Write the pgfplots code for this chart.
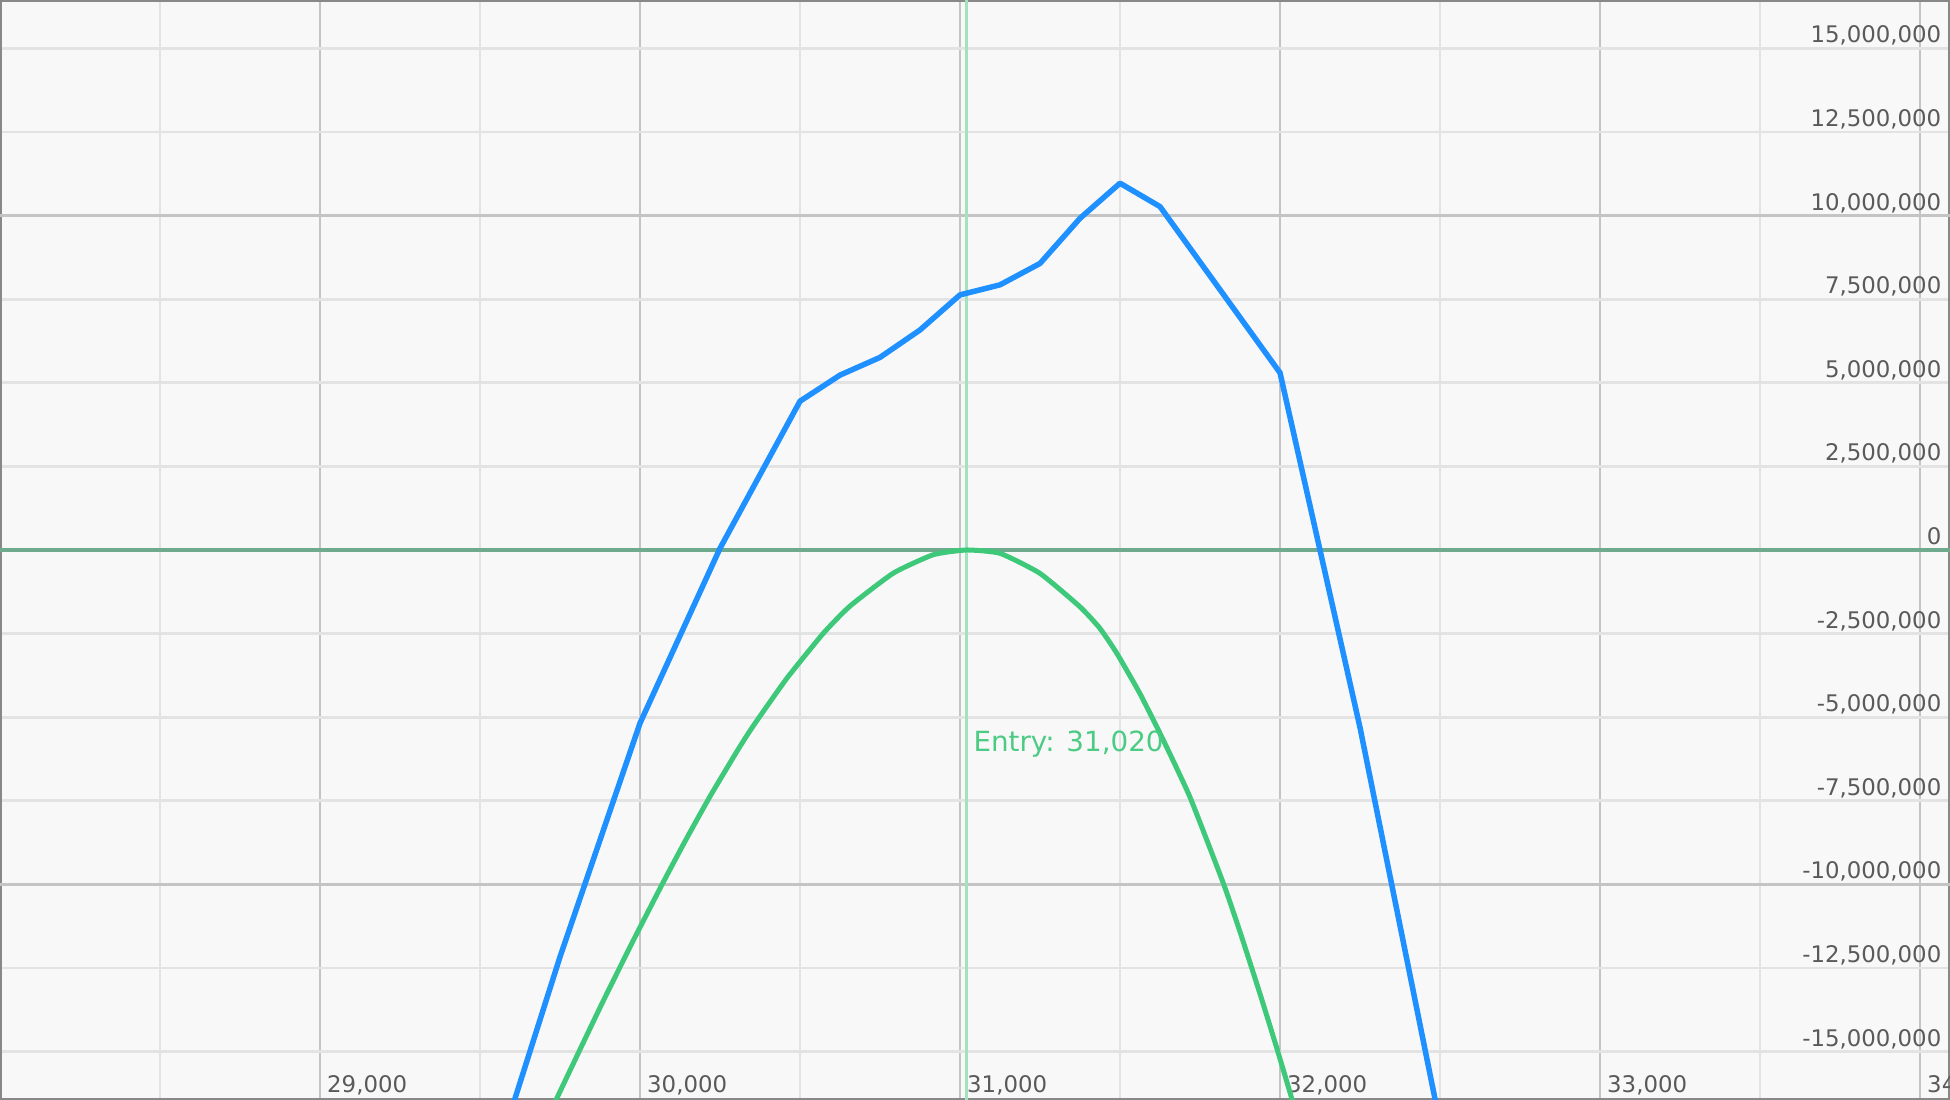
\documentclass[border=0pt]{standalone}
\usepackage{pgfplots}
\pgfplotsset{compat=1.18}
\usepackage{fontspec}
\setmainfont{DejaVu Sans}
\definecolor{bgc}{HTML}{F8F8F8}
\definecolor{framec}{HTML}{888888}
\definecolor{darkgrid}{HTML}{C4C4C4}
\definecolor{lightgrid}{HTML}{E3E3E3}
\definecolor{labelc}{HTML}{5A5A5A}
\definecolor{zeroc}{HTML}{6FA98E}
\definecolor{entryc}{HTML}{A3E2BE}
\definecolor{bluec}{HTML}{1E90FF}
\definecolor{greenc}{HTML}{3EC97A}
\definecolor{entrytext}{HTML}{4CCB84}

\pgfplotstableread{
x y
29500 -19700000
29750 -12170000
30000 -5180000
30250 50000
30500 4450000
30625 5230000
30750 5760000
30875 6580000
31000 7630000
31125 7930000
31250 8570000
31375 9920000
31500 10970000
31625 10270000
32000 5300000
32250 -5310000
32500 -17160000
}\bluedata

\pgfplotstableread{
x y
29700 -17220000
29740 -16400000
29812 -14950000
29885 -13490000
29979 -11680000
30073 -9930000
30146 -8620000
30220 -7350000
30307 -5960000
30354 -5260000
30458 -3850000
30573 -2490000
30656 -1680000
30792 -690000
30917 -140000
31021 0
31125 -100000
31250 -700000
31375 -1700000
31437 -2340000
31490 -3090000
31562 -4290000
31635 -5680000
31719 -7400000
31823 -9970000
31875 -11420000
31937 -13260000
31990 -14900000
32031 -16220000
32080 -17850000
}\greendata

\begin{document}
\begin{tikzpicture}
\begin{axis}[
  name=ax,
  width=19.5cm, height=11cm, scale only axis,
  xmin=28000, xmax=34093.75, ymin=-16450000, ymax=16450000,
  axis background/.style={fill=bgc},
  axis line style={draw=framec, line width=0.035cm},
  xtick={29000,30000,31000,32000,33000,34000},
  xticklabels={{29,000},{30,000},{31,000},{32,000},{33,000},{34,000}},
  minor xtick={28500,29500,30500,31500,32500,33500},
  ytick={-15000000,-12500000,-10000000,-7500000,-5000000,-2500000,0,2500000,5000000,7500000,10000000,12500000,15000000},
  yticklabels={{-15,000,000},{-12,500,000},{-10,000,000},{-7,500,000},{-5,000,000},{-2,500,000},{0},{2,500,000},{5,000,000},{7,500,000},{10,000,000},{12,500,000},{15,000,000}},
  minor ytick={-15000000,-12500000,-7500000,-5000000,-2500000,2500000,5000000,7500000,12500000,15000000},
  xmajorgrids=true, xminorgrids=true, yminorgrids=true, ymajorgrids=false,
  major grid style={draw=darkgrid, line width=0.028cm},
  minor grid style={draw=lightgrid, line width=0.028cm},
  extra y ticks={-10000000,10000000},
  extra y tick labels={},
  extra y tick style={grid=major},
  major tick length=0pt, minor tick length=0pt,
  scaled ticks=false,
  yticklabel pos=right,
  tick label style={font=\fontsize{6.5}{7}\selectfont, text=labelc, inner sep=0pt},
  xticklabel style={anchor=base west, xshift=0.065cm, yshift=0.07cm},
  yticklabel style={anchor=base east, xshift=-0.08cm, yshift=0.055cm},
]
\draw[zeroc, line width=0.035cm] (axis cs:28000,0) -- (axis cs:34093.75,0);
\draw[entryc, line width=0.03cm] (axis cs:31020,-16450000) -- (axis cs:31020,16450000);
\addplot[bluec, line width=0.055cm, line join=round, mark=none] table[x=x,y=y] {\bluedata};
\addplot[greenc, line width=0.05cm, line join=round, mark=none, smooth, tension=0.3] table[x=x,y=y] {\greendata};
\node[anchor=base west, text=entrytext, font=\fontsize{7.9}{9}\selectfont, inner sep=0pt] at (axis cs:31040,-6030000) {Entry: 31,020};
\end{axis}
\pgfresetboundingbox
\path (ax.south west) rectangle (ax.north east);
\end{tikzpicture}
\end{document}
